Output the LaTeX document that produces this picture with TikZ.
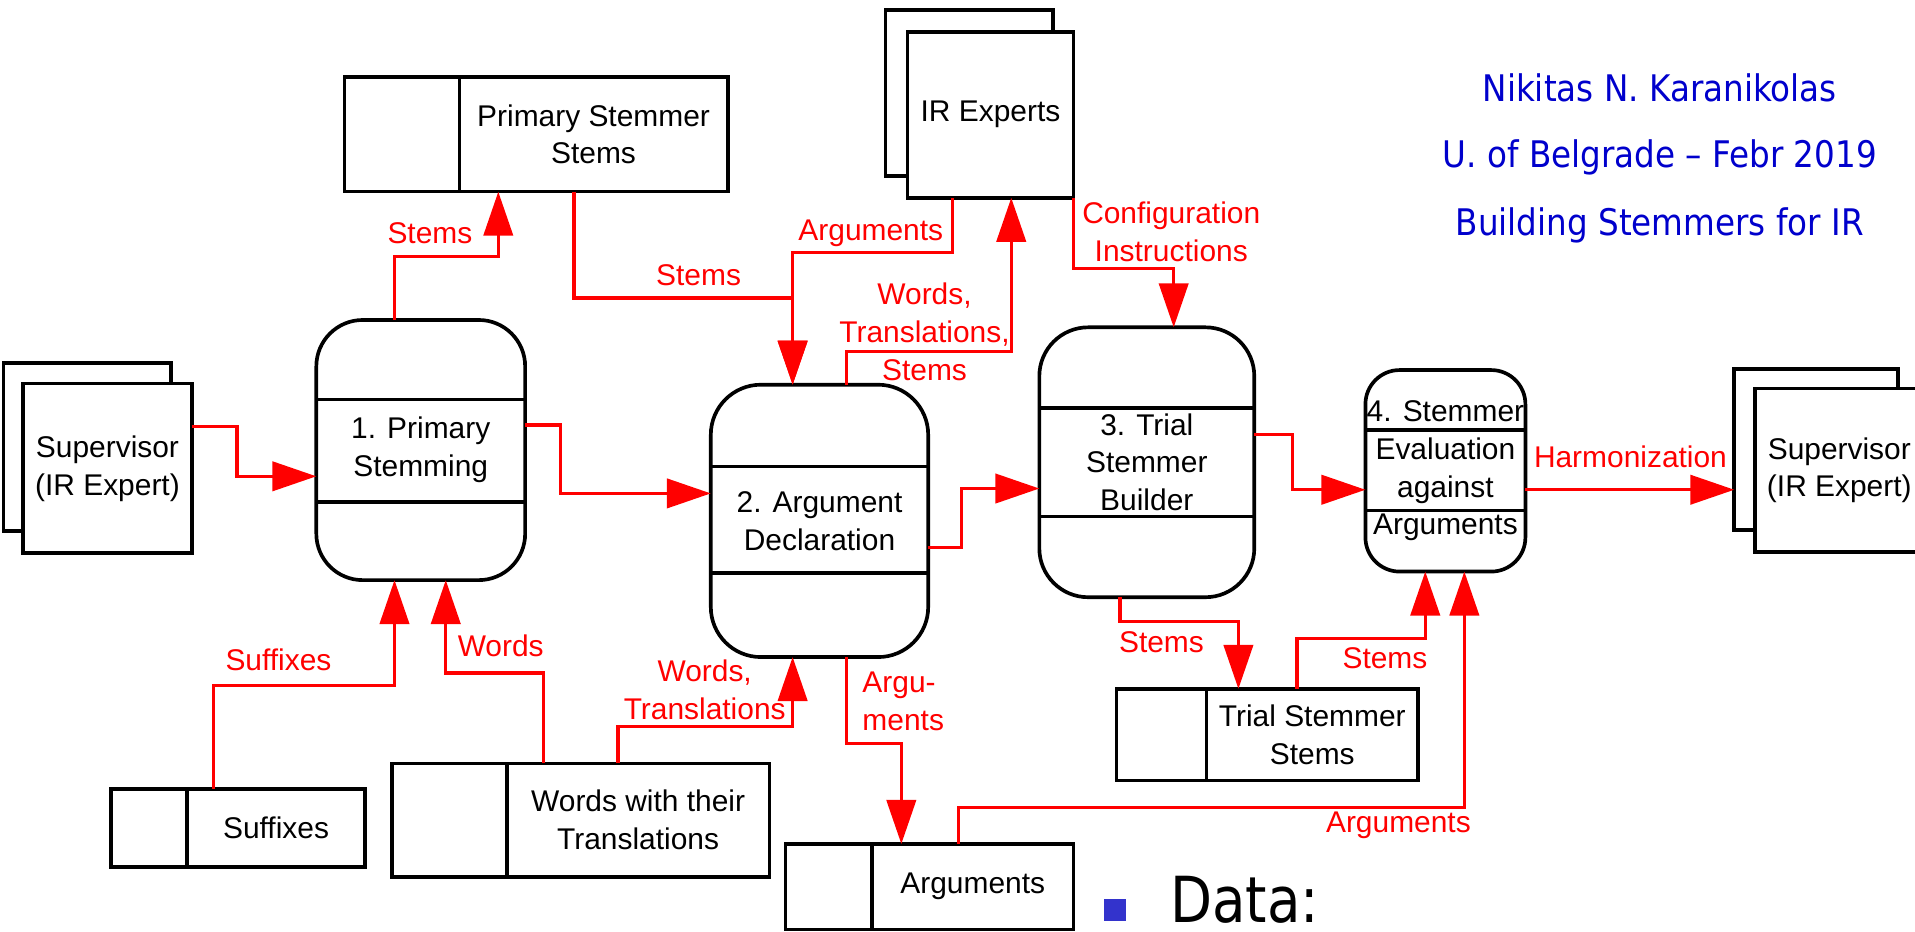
\documentclass[tikz,border=0pt]{standalone}
\usepackage{fontspec}
\setmainfont{Liberation Sans}
\newfontfamily\tahfont[FakeStretch=0.89]{DejaVu Sans}
\newfontfamily\tahbig[FakeStretch=0.86]{DejaVu Sans}
\usetikzlibrary{arrows.meta}
\definecolor{authblue}{RGB}{0,0,204}
\definecolor{bulletblue}{RGB}{51,51,204}
\begin{document}
\begin{tikzpicture}[x=1pt,y=-1pt,
  dfont/.style={font=\fontsize{24.5}{31}\selectfont},
  ent/.style={draw, fill=white, line width=3pt, inner sep=0pt, outer sep=0pt, align=center, dfont},
  proc/.style={draw, fill=white, line width=3pt, rounded corners=#1, inner sep=0pt, outer sep=0pt, align=center, dfont},
  store/.style={draw, fill=white, line width=2.8pt, inner sep=0pt, outer sep=0pt, align=center, dfont},
  divider/.style={line width=3pt},
  flow/.style={draw=red, line width=2.6pt, -{Triangle[length=36pt,width=24pt]}},
  rlbl/.style={text=red, inner sep=0pt, align=center, dfont},
  atext/.style={text=authblue, inner sep=0pt, font=\tahfont\fontsize{30}{36}\selectfont}
]
\useasboundingbox (0,0) rectangle (1568,763);

% external entities
\node[ent, minimum width=137pt, minimum height=138pt] (supLb) at (71.5,366) {};
\node[ent, minimum width=138pt, minimum height=139pt] (supL) at (88,383.5) {Supervisor\\(IR Expert)};
\node[ent, minimum width=137pt, minimum height=136pt] (irb) at (793.5,76) {};
\node[ent, minimum width=136pt, minimum height=136pt] (ir) at (811,94) {IR Experts};
\node[ent, minimum width=134pt, minimum height=132pt] (supRb) at (1487,368) {};
\node[ent, minimum width=138pt, minimum height=134pt] (supR) at (1506,385) {Supervisor\\(IR Expert)};

% processes
\node[proc=38pt, minimum width=171pt, minimum height=213pt] (p1) at (344.5,368.5) {1. Primary\\Stemming};
\draw[divider] (p1.west |- 0,327) -- (p1.east |- 0,327);
\draw[divider] (p1.west |- 0,411) -- (p1.east |- 0,411);
\node[proc=41pt, minimum width=178pt, minimum height=223pt] (p2) at (671,426.5) {2. Argument\\Declaration};
\draw[divider] (p2.west |- 0,382) -- (p2.east |- 0,382);
\draw[divider] (p2.west |- 0,469) -- (p2.east |- 0,469);
\node[proc=40pt, minimum width=176pt, minimum height=221pt] (p3) at (939,378.5) {3. Trial\\Stemmer\\Builder};
\draw[divider] (p3.west |- 0,334) -- (p3.east |- 0,334);
\draw[divider] (p3.west |- 0,423) -- (p3.east |- 0,423);
\node[proc=28pt, minimum width=131pt, minimum height=165pt] (p4) at (1183.5,385.5) {4. Stemmer\\Evaluation\\against\\Arguments};
\draw[divider] (p4.west |- 0,352) -- (p4.east |- 0,352);
\draw[divider] (p4.west |- 0,418) -- (p4.east |- 0,418);

% data stores
\node[store, minimum width=220pt, minimum height=94pt] (pss) at (486,110) {Primary Stemmer\\Stems};
\node[store, minimum width=94pt, minimum height=94pt, anchor=east] (pssL) at (pss.west) {};
\node[store, minimum width=146pt, minimum height=64pt] (suf) at (226,678) {Suffixes};
\node[store, minimum width=62pt, minimum height=64pt, anchor=east] (sufL) at (suf.west) {};
\node[store, minimum width=215pt, minimum height=93pt] (wwt) at (522.5,671.5) {Words with their\\Translations};
\node[store, minimum width=94pt, minimum height=93pt, anchor=east] (wwtL) at (wwt.west) {};
\node[store, minimum width=165pt, minimum height=70pt] (arg) at (796.5,726) {Arguments};
\node[store, minimum width=71pt, minimum height=70pt, anchor=east] (argL) at (arg.west) {};
\node[store, minimum width=173pt, minimum height=75pt] (tss) at (1074.5,601.5) {Trial Stemmer\\Stems};
\node[store, minimum width=74pt, minimum height=75pt, anchor=east] (tssL) at (tss.west) {};

% flows
\draw[flow] (supL.east |- 0,349) -| (194,390) -- (p1.west |- 0,390);
\draw[flow] (p1.east |- 0,348) -| (459,404) -- (p2.west |- 0,404);
\draw[flow] (p1.north -| 323,0) |- (408,210) -- (pss.south -| 408,0);
\draw[flow] (pss.south -| 470,0) |- (649,244) -- (p2.north -| 649,0);
\draw[flow] (ir.south -| 780,0) |- (649,207) -- (p2.north -| 649,0);
\draw[flow] (p2.north -| 693,0) |- (828,288) -- (ir.south -| 828,0);
\draw[flow] (ir.south east) |- (961,220) -- (p3.north -| 961,0);
\draw[flow] (p2.east |- 0,448) -| (787,400) -- (p3.west |- 0,400);
\draw[flow] (p3.east |- 0,356) -| (1058,401) -- (p4.west |- 0,401);
\draw[flow] (p4.east |- 0,401) -- (supRb.west |- 0,401);
\draw[flow] (suf.north -| 175,0) |- (323,561) -- (p1.south -| 323,0);
\draw[flow] (wwt.north -| 445,0) |- (365,551) -- (p1.south -| 365,0);
\draw[flow] (wwt.north -| 506,0) |- (649,595) -- (p2.south -| 649,0);
\draw[flow] (p2.south -| 693,0) |- (738,609) -- (arg.north -| 738,0);
\draw[flow] (p3.south -| 917,0) |- (1014,509) -- (tss.north -| 1014,0);
\draw[flow] (tss.north -| 1062,0) |- (1167,523) -- (p4.south -| 1167,0);
\draw[flow] (arg.north -| 785,0) |- (1199,661) -- (p4.south -| 1199,0);

% flow labels
\node[rlbl] (l3) at (352,191) {Stems};
\node[rlbl] (l4) at (572,225) {Stems};
\node[rlbl] (l5) at (713,191) {Arguments};
\node[rlbl] (l6) at (757,271.5) {Words,\\Translations,\\Stems};
\node[rlbl] (l7) at (959,190) {Configuration\\Instructions};
\node[rlbl] (l10) at (1335,374) {Harmonization};
\node[rlbl] (l11) at (228,540) {Suffixes};
\node[rlbl] (l12) at (410,529) {Words};
\node[rlbl] (l13) at (577,564.5) {Words,\\Translations};
\node[rlbl, anchor=west, align=left] (l14) at (706,574.5) {Argu-\\ments};
\node[rlbl] (l15) at (951,525.5) {Stems};
\node[rlbl] (l16) at (1134,539) {Stems};
\node[rlbl] (l17) at (1145,676) {Arguments};

% author text
\node[atext, anchor=base] (a1) at (1359,83) {Nikitas N. Karanikolas};
\node[atext, anchor=base] (a2) at (1359,137.5) {U. of Belgrade – Febr 2019};
\node[atext, anchor=base] (a3) at (1359,192.5) {Building Stemmers for IR};

% bullet
\node[fill=bulletblue, minimum size=18pt, inner sep=0pt] (bullet) at (913,745) {};
\node[anchor=base west, inner sep=0pt, font=\tahbig\fontsize{52}{60}\selectfont] (data) at (958,755) {Data:};
\end{tikzpicture}
\end{document}
